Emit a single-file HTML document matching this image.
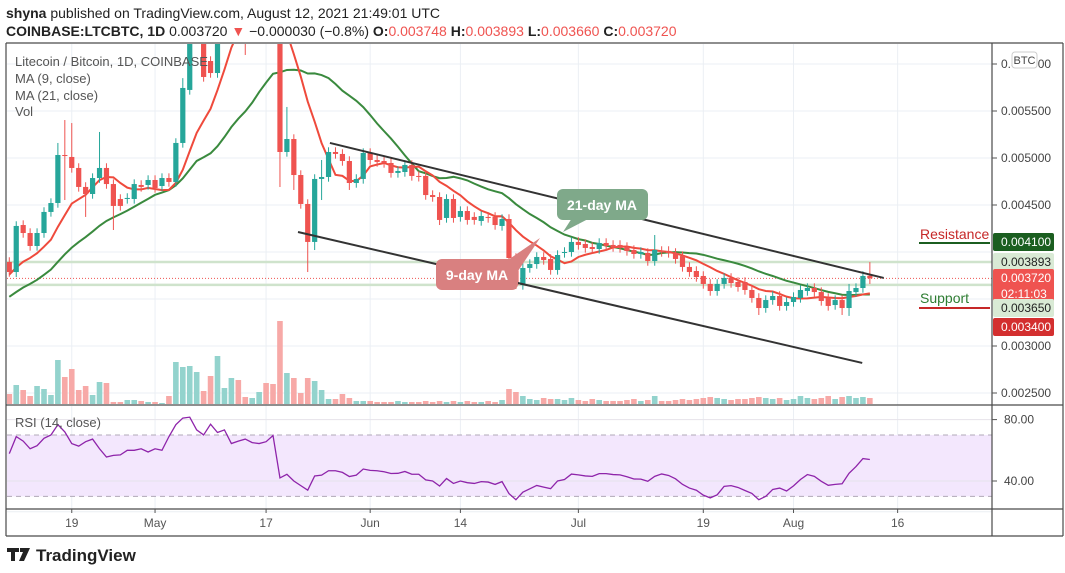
<!DOCTYPE html>
<html><head><meta charset="utf-8">
<style>
html,body{margin:0;padding:0;background:#fff;}
svg{display:block;font-family:"Liberation Sans",sans-serif;}
</style></head>
<body>
<svg id="chart" width="1065" height="573" viewBox="0 0 1065 573" xmlns="http://www.w3.org/2000/svg">
<text x="6" y="18" font-size="14" fill="#222"><tspan font-weight="bold">shyna</tspan> published on TradingView.com, August 12, 2021 21:49:01 UTC</text>
<text x="6" y="36" font-size="14" fill="#222"><tspan font-weight="bold">COINBASE:LTCBTC, 1D</tspan> 0.003720 <tspan fill="#ef5350">▼</tspan> −0.000030 (−0.8%) <tspan font-weight="bold">O:</tspan><tspan fill="#ef5350">0.003748</tspan> <tspan font-weight="bold">H:</tspan><tspan fill="#ef5350">0.003893</tspan> <tspan font-weight="bold">L:</tspan><tspan fill="#ef5350">0.003660</tspan> <tspan font-weight="bold">C:</tspan><tspan fill="#ef5350">0.003720</tspan></text>
<defs><clipPath id="pc"><rect x="7" y="44" width="985" height="361"/></clipPath>
<clipPath id="rc"><rect x="7" y="406" width="985" height="103"/></clipPath></defs>
<g id="grid"></g>
<g id="rsi" clip-path="url(#rc)"></g>
<g id="vol" clip-path="url(#pc)"></g>
<g id="levels" clip-path="url(#pc)"></g>
<g id="ma" clip-path="url(#pc)"></g>
<g id="candles" clip-path="url(#pc)"></g>
<g id="trend" clip-path="url(#pc)"></g>
<g id="frame"></g>
<g id="axis"></g>
<g font-size="13" fill="#555">
<text x="15" y="66">Litecoin / Bitcoin, 1D, COINBASE</text>
<text x="15" y="83">MA (9, close)</text>
<text x="15" y="100">MA (21, close)</text>
<text x="15" y="116">Vol</text>
<text x="15" y="427">RSI (14, close)</text>
</g>
<g>
<path d="M572,218 L563,232 L590,218 Z" fill="#7fa98a"/>
<rect x="557" y="189" width="91" height="31" rx="6" fill="#7fa98a"/>
<text x="602" y="210" font-size="14" font-weight="bold" fill="#fff" text-anchor="middle">21-day MA</text>
</g>
<g>
<path d="M505,262 L540,238 L516,274 Z" fill="#d98080"/>
<rect x="436" y="259" width="82" height="31" rx="6" fill="#d98080"/>
<text x="477" y="280" font-size="14" font-weight="bold" fill="#fff" text-anchor="middle">9-day MA</text>
</g>
<g>
<text x="920" y="239" font-size="14" fill="#c62828">Resistance</text>
<line x1="919" y1="243" x2="990" y2="243" stroke="#1b5e20" stroke-width="2"/>
</g>
<g>
<text x="920" y="303" font-size="14" fill="#2e7d32">Support</text>
<line x1="919" y1="308" x2="990" y2="308" stroke="#c62828" stroke-width="2"/>
</g>
<g id="time" font-size="12" fill="#555" text-anchor="middle"></g>
<g>
<path d="M7,548 h12 v4 h-4 v9 h-4 v-9 h-4 Z M20,548 h10 l-6,13 h-5 l4,-9 h-3 Z" fill="#222"/>
<text x="36" y="561" font-size="17" font-weight="bold" fill="#222">TradingView</text>
</g>
</svg>
<script>
const opens=[3.894,3.787,4.287,4.202,4.064,4.202,4.426,4.521,5.032,5.011,4.894,4.692,4.617,4.787,4.894,4.723,4.564,4.564,4.564,4.713,4.713,4.766,4.702,4.787,4.745,5.160,5.724,6.362,6.468,6.032,5.904,6.468,6.75,6.85,6.65,6.5,6.7,6.85,6.6,6.55,5.064,5.202,4.819,4.511,4.107,4.777,4.798,5.064,5.043,4.968,4.734,4.777,5.053,4.979,4.968,4.947,4.841,4.851,4.926,4.809,4.809,4.606,4.585,4.362,4.564,4.373,4.436,4.373,4.330,4.373,4.373,4.277,4.351,3.936,3.649,3.830,3.872,3.947,3.926,3.809,3.99,4.0,4.107,4.085,4.053,4.032,4.096,4.075,4.075,4.053,4.021,3.979,3.99,3.904,4.011,4.011,3.99,3.957,3.841,3.798,3.745,3.66,3.585,3.66,3.724,3.681,3.681,3.596,3.511,3.404,3.489,3.532,3.426,3.468,3.511,3.585,3.617,3.574,3.511,3.436,3.489,3.404,3.574,3.617,3.748];
const closes=[3.787,4.277,4.202,4.064,4.202,4.426,4.521,5.032,5.021,4.894,4.692,4.617,4.787,4.894,4.723,4.490,4.490,4.575,4.723,4.692,4.766,4.681,4.787,4.745,5.160,5.745,6.362,6.468,5.862,5.904,6.468,6.75,6.85,6.65,6.5,6.7,6.85,6.6,6.55,5.064,5.202,4.819,4.511,4.107,4.777,4.798,5.064,5.043,4.968,4.734,4.777,5.053,4.979,4.958,4.947,4.841,4.862,4.926,4.809,4.80,4.606,4.585,4.341,4.564,4.362,4.436,4.341,4.341,4.383,4.362,4.287,4.351,3.936,3.649,3.830,3.872,3.947,3.915,3.809,3.968,4.0,4.107,4.075,4.043,4.032,4.096,4.064,4.053,4.043,4.011,3.979,4.0,3.904,4.021,4.0,3.99,3.926,3.841,3.787,3.734,3.66,3.585,3.66,3.724,3.670,3.628,3.596,3.511,3.404,3.489,3.532,3.426,3.468,3.521,3.596,3.617,3.574,3.479,3.426,3.489,3.404,3.585,3.617,3.745,3.72];
const priorCloses=[3.2,3.2,3.25,3.3,3.3,3.35,3.3,3.35,3.4,3.45,3.5,3.55,3.6,3.65,3.7,3.75,3.8,3.85,3.8,3.9];
const wickIdx=[1,7,8,9,11,13,15,25,34,38,39,40,41,43,44,45,49,62,73,93,108,120,121,124];
const wickHigh=[null,5.16,5.404,5.372,null,5.277,null,5.85,null,null,6.8,5.543,null,null,null,4.979,null,null,null,4.181,null,null,3.66,3.893];
const wickLow=[3.734,null,4.553,null,4.373,null,4.234,null,6.096,6.255,4.692,null,4.66,3.787,4.021,4.553,4.66,4.287,3.606,null,3.33,3.33,3.32,3.66];
const volumes=[10,19,14,8,18,15,9,44,27,35,14,18,9,22,21,2,2,4,4,3,2,2,1,8,42,37,38,32,13,28,48,16,26,24,7,6,12,21,20,83,31,26,11,26,23,14,5,5,10,6,3,3,3,2,2,2,3,2,2,2,3,2,3,2,3,2,3,2,2,3,2,4,15,12,8,5,4,6,5,5,4,6,4,3,5,4,3,3,3,4,5,3,4,8,3,3,4,5,4,5,6,7,6,5,4,5,5,6,7,6,5,6,4,5,8,6,5,6,8,5,7,8,6,7,6];
const rsiValues=[57.8,68.9,66,61,63,67.8,70,76.7,72,64.4,62.7,65.6,67.3,61,55.6,56.7,57,60,60,61,58.9,61,60,68.9,76.7,81,81.6,73.3,70,77,71.6,73.3,64.4,66,67.3,65,64.4,65.6,69.6,42,44.4,40,37,34,43.3,43.8,46.7,46.7,45.6,42.9,43.8,47.8,46.9,46.7,46,44.9,45,46.2,44.4,44.4,40.7,40,36.7,41.6,38.4,40,38.9,38.4,39.6,39.3,37.8,39.6,31.8,27.8,32.7,34.9,37.1,36,35,40,41,44.5,44,43.3,43,44.8,44.8,44.2,44,42.8,41.3,41.2,39.8,43,44.6,43.6,41.4,37.8,35.4,34,30.8,29,31,36.5,37,35.8,33.8,31.9,27.8,30,34.5,35.4,33.5,36.8,41,44.2,43,39.8,37.2,37.8,38.2,45,49.4,54.6,54];
const priceTicks=[2.5,3.0,4.5,5.0,5.5,6.0];
const priceTickLabels=["0.002500","0.003000","0.004500","0.005000","0.005500","0.006000"];
const gridPrices=[2.5,3.0,3.5,4.0,4.5,5.0,5.5,6.0];
const timeIdx=[9,21,37,52,65,82,100,113,128];
const timeLabels=["19","May","17","Jun","14","Jul","19","Aug","16"];
const upperTrendIdx=[46.2,126];
const upperTrendPrice=[5.16,3.724];
const lowerTrendIdx=[41.6,122.9];
const lowerTrendPrice=[4.213,2.82];
const levelPrices=[3.893,3.65];
const lastPrice=3.72;
const rsiTicks=[80,40];

const NS="http://www.w3.org/2000/svg";
function X(i){return 9.3+i*6.94;}
function Y(v){return 158+(5-v)*94;}
function RY(v){return 419.6+(80-v)*1.535;}
function mk(tag,attrs,parent){const e=document.createElementNS(NS,tag);for(const k in attrs)e.setAttribute(k,attrs[k]);parent.appendChild(e);return e;}
const G=id=>document.getElementById(id);

const grid=G('grid');
gridPrices.forEach(p=>{const l=mk('line',{x1:7,x2:992,y1:Y(p),y2:Y(p),stroke:'#ebeff4','stroke-width':1},grid);

});
timeIdx.forEach(i=>{[[44,405],[406,509]].forEach(r=>{const l=mk('line',{x1:X(i),x2:X(i),y1:r[0],y2:r[1],stroke:'#ebeff4','stroke-width':1},grid);

});});
[60,20].forEach(v=>{const l=mk('line',{x1:7,x2:992,y1:RY(v),y2:RY(v),stroke:'#ebeff4'},grid);

});

const rsi=G('rsi');
const band=mk('rect',{x:7,y:RY(70),width:985,height:RY(30)-RY(70),fill:'#f3e7fd'},rsi);


[70,30].forEach(v=>{const l=mk('line',{x1:7,x2:992,y1:RY(v),y2:RY(v),stroke:'#b0a8b8','stroke-dasharray':'5,4'},rsi);

});
[80,40].forEach(v=>{const l=mk('line',{x1:7,x2:992,y1:RY(v),y2:RY(v),stroke:'#e6e3ea'},rsi);

});
const rl=mk('polyline',{points:rsiValues.map((v,i)=>X(i)+','+RY(v)).join(' '),fill:'none',stroke:'#8e24aa','stroke-width':1.3},rsi);



const vol=G('vol');
volumes.forEach((v,i)=>{const up=closes[i]>=opens[i];
const r=mk('rect',{x:X(i)-2.8,y:404-v,width:5.6,height:v,fill:up?'#93d3cd':'#f7a9a7'},vol);

});

const lv=G('levels');
levelPrices.forEach(p=>{const l=mk('line',{x1:7,x2:992,y1:Y(p),y2:Y(p),stroke:'#cfe3cc','stroke-width':2.5},lv);

});
const lp=mk('line',{x1:7,x2:992,y1:Y(lastPrice),y2:Y(lastPrice),stroke:'#ef5350','stroke-dasharray':'1,2'},lv);



const all=priorCloses.concat(closes);
function maPts(n){const pts=[];for(let i=0;i<closes.length;i++){const k=i+priorCloses.length;let s=0;for(let j=k-n+1;j<=k;j++)s+=all[j];pts.push(X(i)+','+Y(s/n));}return pts.join(' ');}
const ma=G('ma');
const m21=mk('polyline',{points:maPts(21),fill:'none',stroke:'#3a8a3e','stroke-width':2},ma);


const m9=mk('polyline',{points:maPts(9),fill:'none',stroke:'#ef4a3c','stroke-width':2},ma);



const cg=G('candles');
closes.forEach((c,i)=>{const o=opens[i];const up=c>=o;const col=up?'#26a69a':'#ef5350';
let hi=Math.max(o,c)+0.05, lo=Math.min(o,c)-0.05;const w=wickIdx.indexOf(i);
if(w>=0){if(wickHigh[w]!==null)hi=wickHigh[w];if(wickLow[w]!==null)lo=wickLow[w];}
const wk=mk('line',{x1:X(i),x2:X(i),y1:Y(hi),y2:Y(lo),stroke:col,'stroke-width':1},cg);


const top=Y(Math.max(o,c)),h=Math.max(1,Y(Math.min(o,c))-top);
const b=mk('rect',{x:X(i)-2.6,y:top,width:5.2,height:h,fill:col},cg);

});

const tg=G('trend');
const ut=mk('line',{x1:X(upperTrendIdx[0]),y1:Y(upperTrendPrice[0]),x2:X(upperTrendIdx[1]),y2:Y(upperTrendPrice[1]),stroke:'#333','stroke-width':2},tg);


const lt=mk('line',{x1:X(lowerTrendIdx[0]),y1:Y(lowerTrendPrice[0]),x2:X(lowerTrendIdx[1]),y2:Y(lowerTrendPrice[1]),stroke:'#333','stroke-width':2},tg);



const fr=G('frame');
[[6,43,1063,43],[6,43,6,536],[1063,43,1063,536],[6,536,1063,536],[992,43,992,536],[6,405,1063,405],[6,509,1063,509]].forEach(a=>{
const l=mk('line',{x1:a[0],y1:a[1],x2:a[2],y2:a[3],stroke:'#4a4a4a','stroke-width':1.2},fr);

});

const ax=G('axis');
priceTicks.forEach((p,k)=>{const y=Y(p);
const t=mk('line',{x1:992,x2:997,y1:y,y2:y,stroke:'#555'},ax);


const tx=mk('text',{x:1001,y:y+4,'font-size':12,fill:'#444'},ax);tx.textContent=priceTickLabels[k];

});
rsiTicks.forEach(v=>{const y=RY(v);
const t=mk('line',{x1:992,x2:997,y1:y,y2:y,stroke:'#555'},ax);


const tx=mk('text',{x:1004,y:y+4,'font-size':12,fill:'#444'},ax);tx.textContent=v.toFixed(2);

});
const badges=[[242,'#1b5e20','#fff',['0.004100']],[262,'#d9ead5','#222',['0.003893']],[286,'#ef5350','#fff',['0.003720','02:11:03']],[308,'#d9ead5','#222',['0.003650']],[327,'#d32f2f','#fff',['0.003400']]];
badges.forEach(b=>{const n=b[3].length;const h=n===1?18:34;const top=n===1?b[0]-9:b[0]-17;
const r=mk('rect',{x:993,y:top,width:61,height:h,rx:2,fill:b[1]},ax);


b[3].forEach((s,k)=>{const tx=mk('text',{x:1001,y:top+13+k*16,'font-size':12,fill:b[2]},ax);tx.textContent=s;

});});
const br=mk('rect',{x:1012,y:52,width:25,height:16,rx:3,fill:'#fff',stroke:'#ccc'},ax);


const bt=mk('text',{x:1024.5,y:64,'font-size':11,fill:'#444','text-anchor':'middle'},ax);bt.textContent='BTC';



const tm=G('time');
timeIdx.forEach((i,k)=>{const t=mk('line',{x1:X(i),x2:X(i),y1:509,y2:513,stroke:'#555'},tm);


const tx=mk('text',{x:X(i),y:527},tm);tx.textContent=timeLabels[k];

});
</script>
</body></html>
